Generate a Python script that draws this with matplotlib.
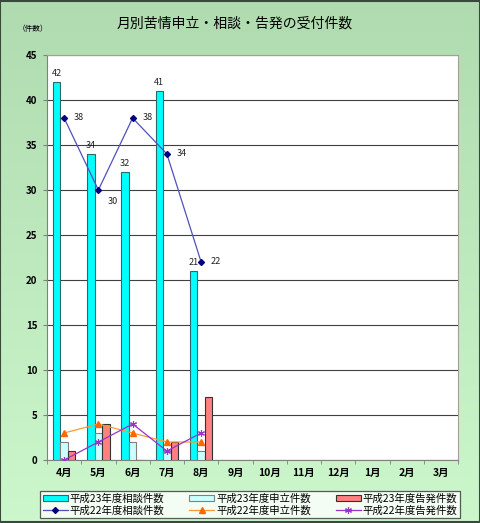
import numpy as np
import matplotlib
matplotlib.use("Agg")
import matplotlib.pyplot as plt

plt.rcParams['font.family'] = ['Noto Sans CJK JP', 'DejaVu Sans']

months = ['4月', '5月', '6月', '7月', '8月', '9月', '10月', '11月', '12月', '1月', '2月', '3月']
h23_consult = [42, 34, 32, 41, 21]
h23_petition = [2, 3, 2, 1, 1]
h23_accuse = [1, 4, 0, 2, 7]
h22_consult = [38, 30, 38, 34, 22]
h22_petition = [3, 4, 3, 2, 2]
h22_accuse = [0, 2, 4, 1, 3]

W, H = 480, 523
fig = plt.figure(figsize=(W / 100, H / 100), dpi=100)

# gradient background
bg = fig.add_axes([0, 0, 1, 1], zorder=-10)
grad = np.linspace(0, 1, 256).reshape(-1, 1)
top = np.array([0.69, 0.86, 0.69])
bot = np.array([0.80, 0.97, 0.80])
img = top[None, None, :] * (1 - grad[:, :, None]) + bot[None, None, :] * grad[:, :, None]
bg.imshow(img, aspect='auto', extent=[0, 1, 0, 1])
bg.set_xlim(0, 1); bg.set_ylim(0, 1)
bg.axis('off')
bg.add_patch(plt.Rectangle((0.001, 0.001), 0.998, 0.997, fill=False, edgecolor='#3a4a3a', lw=1.5, transform=bg.transAxes))

ax = fig.add_axes([47 / W, 1 - 460 / H, (458 - 47) / W, (460 - 55) / H])
ax.set_facecolor('white')

x = np.arange(len(months))
n = len(h23_consult)
bw = 0.22
b1 = ax.bar(x[:n] - bw, h23_consult, bw, color='#00FFFF', edgecolor='#2a6a6a', lw=0.8, zorder=3, label='平成23年度相談件数')
b2 = ax.bar(x[:n], h23_petition, bw, color='#CCFFFF', edgecolor='#808080', lw=0.8, zorder=3, label='平成23年度申立件数')
b3 = ax.bar(x[:n] + bw, h23_accuse, bw, color='#FF8080', edgecolor='#333333', lw=0.8, zorder=3, label='平成23年度告発件数')

l1, = ax.plot(x[:n], h22_consult, color='#5050c0', lw=0.9, marker='D', ms=3, mfc='#000080', mec='#000080', zorder=5, label='平成22年度相談件数')
l2, = ax.plot(x[:n], h22_petition, color='#FF9933', lw=0.9, marker='^', ms=5, mfc='#FF6600', mec='#FF6600', zorder=5, label='平成22年度申立件数')
l3, = ax.plot(x[:n], h22_accuse, color='#9933CC', lw=0.9, marker=(6, 2, 0), ms=5, mew=0.8, mec='#9933CC', zorder=5, label='平成22年度告発件数')

for xi, v in zip(x[:n] - bw, h23_consult):
    ax.annotate(str(v), (xi, v), xytext=(0, 3), textcoords='offset points', ha='center', va='bottom', fontsize=6.5, color='#222222', zorder=6)
offs = [(7, 0), (7, -8), (7, 0), (7, 0), (7, 0)]
for xi, v, o in zip(x[:n], h22_consult, offs):
    ax.annotate(str(v), (xi, v), xytext=o, textcoords='offset points', ha='left', va='center', fontsize=6.5, color='#222222', zorder=6)

ax.set_xlim(-0.5, 11.5)
ax.set_ylim(0, 45)
ax.set_yticks(range(0, 46, 5))
ax.set_xticks(x)
ax.set_xticklabels(months, fontsize=7.5, fontweight='bold')
ax.set_xticks(np.arange(-0.5, 12, 1), minor=True)
ax.tick_params(axis='x', which='major', length=0, pad=6)
ax.tick_params(axis='x', which='minor', length=3, color='#808080')
ax.tick_params(axis='y', length=3, color='#808080', labelsize=7, pad=4)
for t in ax.get_yticklabels():
    t.set_fontweight('bold')
ax.yaxis.grid(True, color='#404040', lw=0.8, zorder=1)
ax.set_axisbelow(True)
for s in ['left', 'bottom']:
    ax.spines[s].set_color('#808080')
for s in ['top', 'right']:
    ax.spines[s].set_color('#a0a0a0')

fig.text(235 / W, 1 - 24 / H, '月別苦情申立・相談・告発の受付件数', ha='center', va='center', fontsize=10)
fig.text(33 / W, 1 - 29 / H, '（件数）', ha='center', va='center', fontsize=5.5)

handles = [b1, l1, b2, l2, b3, l3]
leg = fig.legend(handles=handles, labels=[h.get_label() for h in handles], ncol=3,
                 loc='lower left', bbox_to_anchor=(40 / W, 1 - 518 / H, 420 / W, 29 / H),
                 mode='expand', fontsize=7.5, frameon=True, fancybox=False,
                 edgecolor='#333333', handlelength=2.4, handleheight=0.5,
                 borderpad=0.25, labelspacing=0.1, columnspacing=1.0, handletextpad=0.2, borderaxespad=0)
leg.get_frame().set_linewidth(0.9)

fig.savefig('out.png', dpi=100)
